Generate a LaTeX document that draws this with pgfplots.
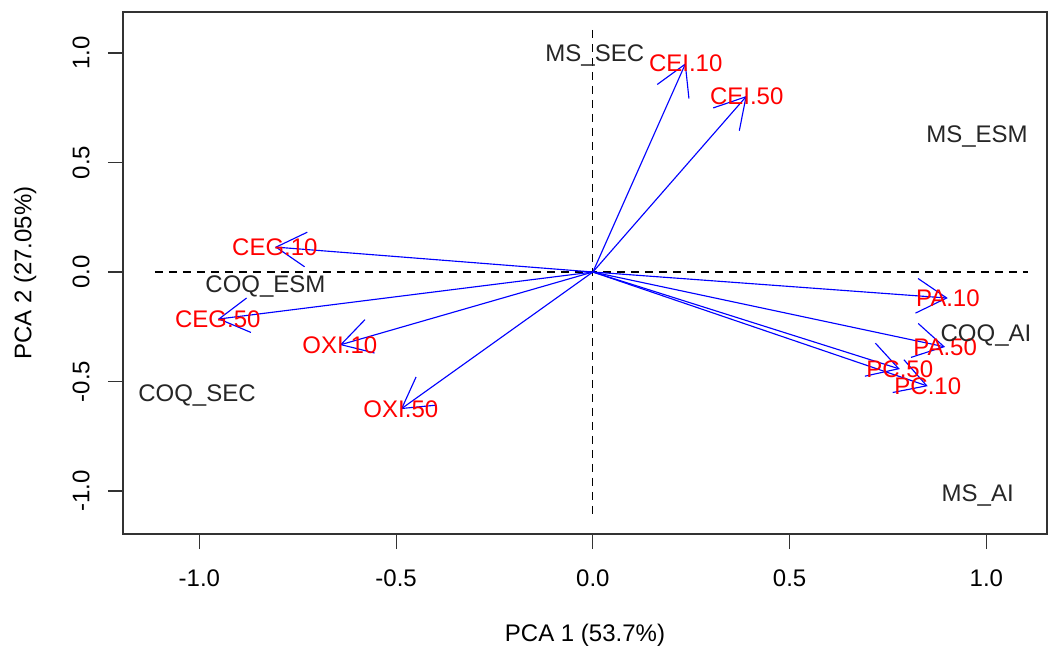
\documentclass[border=0pt]{standalone}
\usepackage{pgfplots}
\usepackage{pgfplotstable}
\pgfplotsset{compat=1.18}
\usepackage{fontspec}
\setmainfont{Liberation Sans}
\usetikzlibrary{arrows.meta}
\newcommand\lbl{\fontsize{18}{21}\selectfont}

\pgfplotstableread{
x y label
0.236 0.954 CEI.10
0.391 0.804 CEI.50
-0.808 0.114 CEG.10
-0.953 -0.215 CEG.50
-0.643 -0.333 OXI.10
-0.488 -0.626 OXI.50
0.902 -0.119 PA.10
0.895 -0.342 PA.50
0.780 -0.443 PC.50
0.851 -0.521 PC.10
}\loadings

\pgfplotstableread{
x y label
0.005 1.000 MS\_SEC
0.976 0.630 MS\_ESM
-0.832 -0.053 COQ\_ESM
0.999 -0.279 COQ\_AI
-1.006 -0.553 COQ\_SEC
0.978 -1.009 MS\_AI
}\sites

\begin{document}
\begin{tikzpicture}
\begin{axis}[
  scale only axis, width=693pt, height=391.5pt,
  xmin=-1.194, xmax=1.154, ymin=-1.196, ymax=1.187,
  clip=false,
  axis line style={black!80, line width=0.9pt},
  xtick={-1,-0.5,0,0.5,1}, xticklabels={-1.0,-0.5,0.0,0.5,1.0},
  ytick={-1,-0.5,0,0.5,1}, yticklabels={-1.0,-0.5,0.0,0.5,1.0},
  xtick pos=left, ytick pos=left,
  tick align=outside, major tick length=11.25pt,
  every tick/.style={black!80, line width=0.9pt},
  tick label style={font=\lbl},
  xticklabel style={anchor=center, yshift=-21.75pt},
  yticklabel style={anchor=center, xshift=-20.25pt, rotate=90},
  xlabel={PCA 1 (53.7\%)}, ylabel={PCA 2 (27.05\%)},
  label style={font=\lbl},
  xlabel style={at={(axis description cs:0.5,-0.1935)}, anchor=center},
  ylabel style={at={(axis description cs:-0.106,0.5)}, anchor=center},
]
\addplot[black, line width=0.8pt, dash pattern=on 6pt off 4.5pt] coordinates {(-1.113,0) (1.105,0)};
\addplot[black, line width=0.8pt, dash pattern=on 6pt off 4.5pt] coordinates {(0,1.105) (0,-1.12)};

\addplot[blue, line width=0.85pt, -{Straight Barb[length=22.5pt, width=26pt]}] coordinates {(0,0) (0.236,0.954)};
\addplot[blue, line width=0.85pt, -{Straight Barb[length=22.5pt, width=26pt]}] coordinates {(0,0) (0.391,0.804)};
\addplot[blue, line width=0.85pt, -{Straight Barb[length=22.5pt, width=26pt]}] coordinates {(0,0) (-0.808,0.114)};
\addplot[blue, line width=0.85pt, -{Straight Barb[length=22.5pt, width=26pt]}] coordinates {(0,0) (-0.953,-0.215)};
\addplot[blue, line width=0.85pt, -{Straight Barb[length=22.5pt, width=26pt]}] coordinates {(0,0) (-0.643,-0.333)};
\addplot[blue, line width=0.85pt, -{Straight Barb[length=22.5pt, width=26pt]}] coordinates {(0,0) (-0.488,-0.626)};
\addplot[blue, line width=0.85pt, -{Straight Barb[length=22.5pt, width=26pt]}] coordinates {(0,0) (0.902,-0.119)};
\addplot[blue, line width=0.85pt, -{Straight Barb[length=22.5pt, width=26pt]}] coordinates {(0,0) (0.895,-0.342)};
\addplot[blue, line width=0.85pt, -{Straight Barb[length=22.5pt, width=26pt]}] coordinates {(0,0) (0.780,-0.443)};
\addplot[blue, line width=0.85pt, -{Straight Barb[length=22.5pt, width=26pt]}] coordinates {(0,0) (0.851,-0.521)};

\addplot[only marks, mark=none, nodes near coords, point meta=explicit symbolic,
  nodes near coords style={anchor=base, yshift=-6.4pt, font=\lbl, text=red, inner sep=0pt}]
  table[x=x, y=y, meta=label] {\loadings};

\addplot[only marks, mark=none, nodes near coords, point meta=explicit symbolic,
  nodes near coords style={anchor=base, yshift=-6.4pt, font=\lbl, text=black!85, inner sep=0pt}]
  table[x=x, y=y, meta=label] {\sites};
\end{axis}
\pgfresetboundingbox
\path[use as bounding box] ([xshift=-92.25pt, yshift=-87pt]current axis.south west) rectangle ([xshift=1.5pt, yshift=9pt]current axis.north east);
\end{tikzpicture}
\end{document}
